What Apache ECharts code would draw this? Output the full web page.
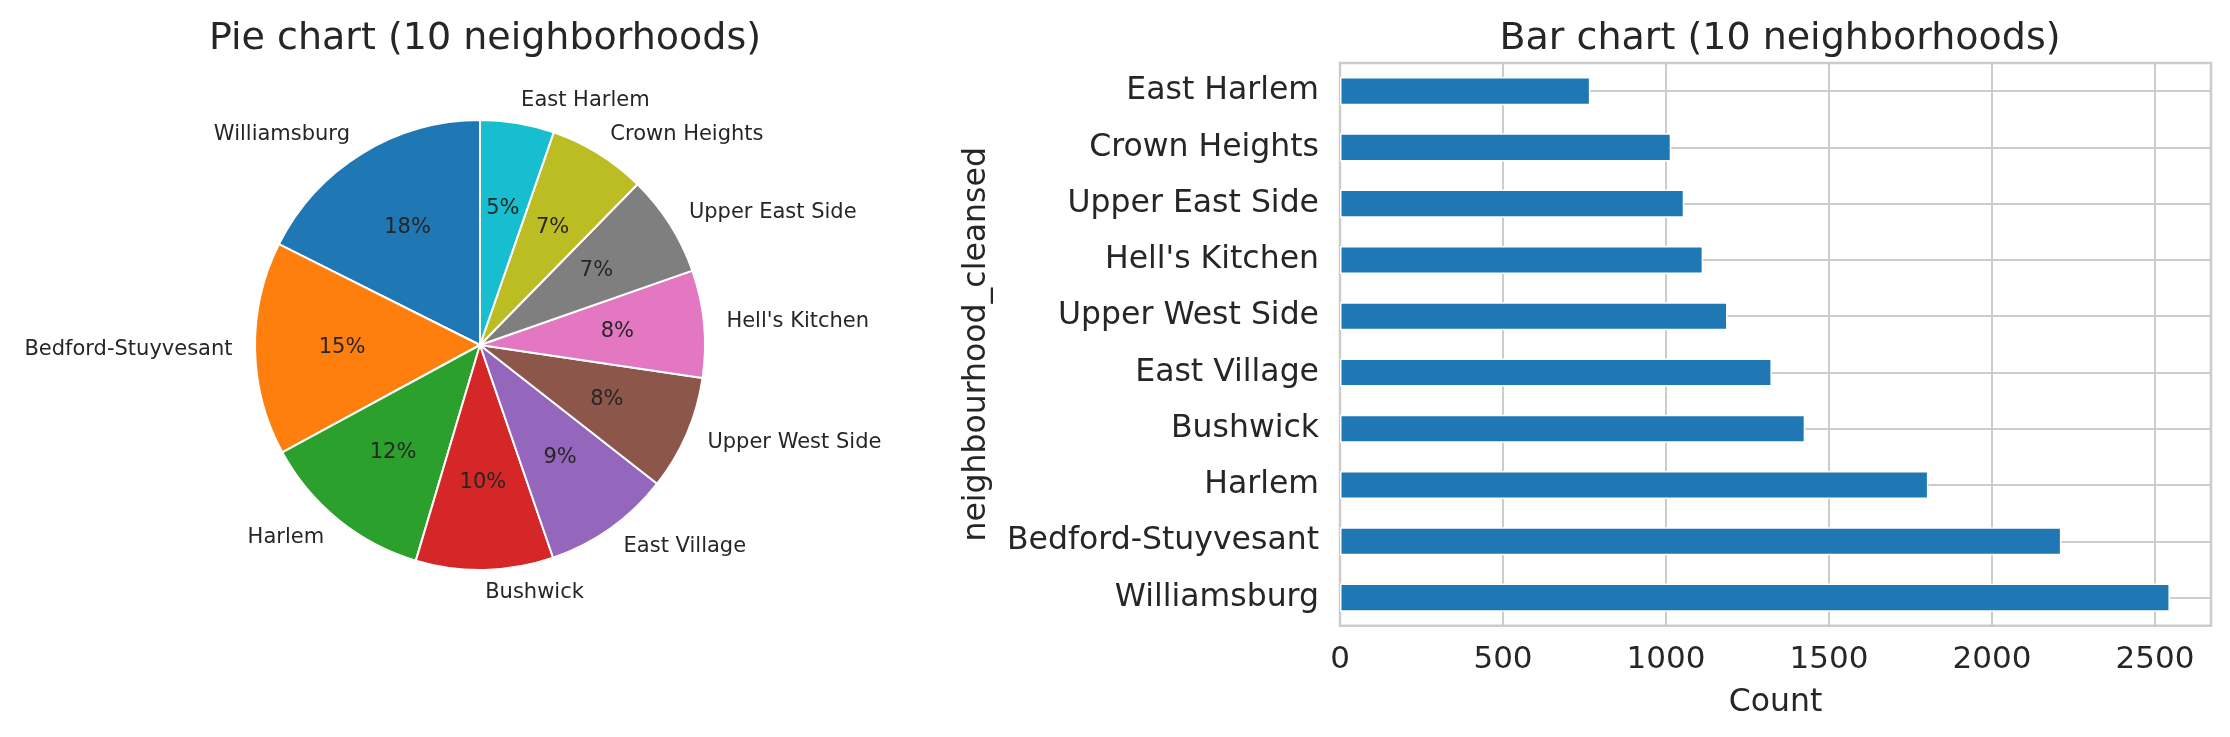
<!DOCTYPE html>
<html>
<head>
<meta charset="utf-8">
<script src="https://cdn.jsdelivr.net/npm/echarts@6/dist/echarts.min.js"></script>
<style>
html,body{margin:0;padding:0;background:#fff;}
#c{width:2230px;height:737px;}
</style>
</head>
<body>
<div id="c"></div>
<script>
// Data (order as in the pie, starting at top going counter-clockwise; bar: bottom to top)
const neighborhoods = ["Williamsburg","Bedford-Stuyvesant","Harlem","Bushwick","East Village","Upper West Side","Hell's Kitchen","Upper East Side","Crown Heights","East Harlem"];
const counts = [2546, 2213, 1805, 1427, 1325, 1189, 1114, 1056, 1016, 768];
const colors = ["#1f77b4","#ff7f0e","#2ca02c","#d62728","#9467bd","#8c564b","#e377c2","#7f7f7f","#bcbd22","#17becf"];
const xTicks = [0, 500, 1000, 1500, 2000, 2500];

const FONT = "DejaVu Sans";
const TXT = "#262626";

const pieData = neighborhoods.map((n, i) => ({name: n, value: counts[i], itemStyle: {color: colors[i]}}));
const pieDataPct = neighborhoods.map((n, i) => ({name: n, value: counts[i]}));

const chart = echarts.init(document.getElementById('c'), null, {renderer: 'canvas'});
chart.setOption({
  animation: false,
  backgroundColor: '#ffffff',
  textStyle: {fontFamily: FONT},
  title: [
    {text: 'Pie chart (10 neighborhoods)', left: 480, top: 15, textAlign: 'center',
     textStyle: {fontFamily: FONT, fontSize: 38, fontWeight: 'normal', color: TXT}},
    {text: 'Bar chart (10 neighborhoods)', left: 1775, top: 15, textAlign: 'center',
     textStyle: {fontFamily: FONT, fontSize: 38, fontWeight: 'normal', color: TXT}}
  ],
  grid: {left: 1340, right: 19, top: 63, bottom: 111.3, show: true, borderColor: '#cccccc', borderWidth: 2.5, backgroundColor: 'transparent'},
  xAxis: {
    type: 'value', min: 0, max: 2672, interval: 500,
    name: 'Count', nameLocation: 'middle', nameGap: 61,
    nameTextStyle: {fontFamily: FONT, fontSize: 31.5, color: TXT},
    axisLine: {show: false}, axisTick: {show: false},
    axisLabel: {fontFamily: FONT, fontSize: 31, color: TXT, margin: 19, showMaxLabel: false,
      formatter: v => xTicks.indexOf(v) >= 0 ? String(v) : ''},
    splitLine: {show: true, lineStyle: {color: '#cccccc', width: 2}}
  },
  yAxis: {
    type: 'category', data: neighborhoods,
    name: 'neighbourhood_cleansed', nameLocation: 'middle', nameGap: 347,
    nameTextStyle: {fontFamily: FONT, fontSize: 31.5, color: TXT},
    axisLine: {show: false}, axisTick: {show: false},
    axisLabel: {fontFamily: FONT, fontSize: 31.5, color: TXT, margin: 21, interval: 0, padding: [5, 0, 0, 0]},
    splitLine: {show: false}
  },
  series: [
    {
      type: 'pie', center: [480, 345], radius: 225, startAngle: 90, clockwise: false,
      avoidLabelOverlap: false, silent: true,
      data: pieData,
      itemStyle: {borderColor: '#ffffff', borderWidth: 2},
      label: {show: true, position: 'outside', fontFamily: FONT, fontSize: 21, color: TXT, distanceToLabelLine: 0},
      labelLine: {show: false, length: 22.5, length2: 0},
      emphasis: {disabled: true}
    },
    {
      type: 'pie', center: [480, 345], radius: [45, 225], startAngle: 90, clockwise: false,
      avoidLabelOverlap: false, silent: true,
      data: pieDataPct,
      itemStyle: {color: 'rgba(0,0,0,0)', borderWidth: 0},
      label: {show: true, position: 'inside', fontFamily: FONT, fontSize: 21, color: TXT,
        formatter: p => Math.round(p.percent) + '%'},
      labelLine: {show: false},
      emphasis: {disabled: true}
    },
    {
      type: 'bar', data: counts, barWidth: '50%', silent: true, z: 3,
      itemStyle: {color: '#1f77b4', borderColor: '#ffffff', borderWidth: 1.5},
      markLine: {
        silent: true, symbol: 'none', z: 1, animation: false,
        label: {show: false},
        lineStyle: {color: '#cccccc', width: 2, type: 'solid'},
        data: neighborhoods.map(n => ({yAxis: n}))
      }
    }
  ]
});
</script>
</body>
</html>
